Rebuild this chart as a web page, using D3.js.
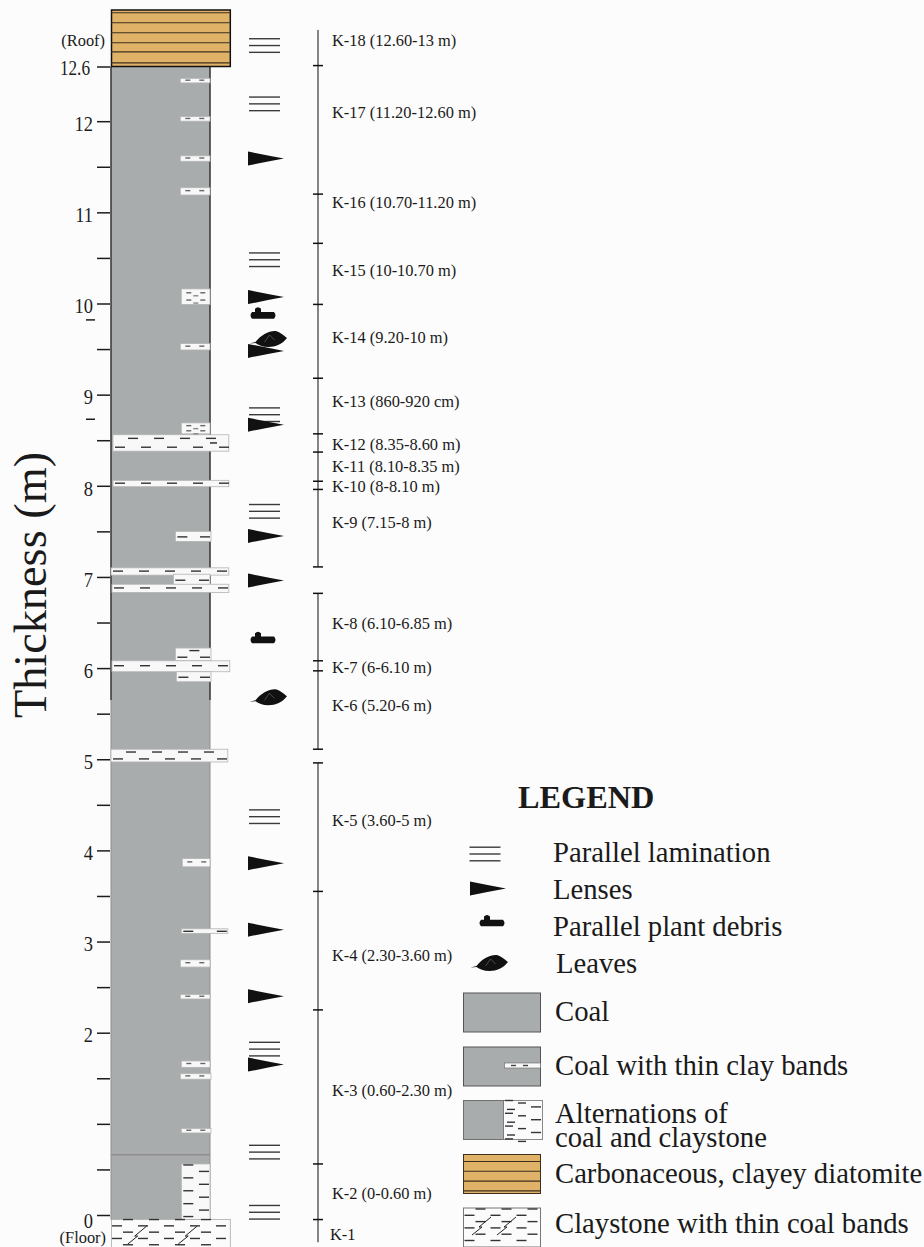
<!DOCTYPE html>
<html>
<head>
<meta charset="utf-8">
<script src="https://cdn.jsdelivr.net/npm/d3@7"></script>
<style>
  html, body { margin: 0; padding: 0; background: #fcfcfc; }
  svg { display: block; font-family: "Liberation Serif", serif; fill: #1a1a1a; }
</style>
</head>
<body>
<script>
// thickness ticks (m)
const tickValues = [0, 0.5, 1, 1.5, 2, 2.5, 3, 3.5, 4, 4.5, 5, 5.5, 6, 6.5, 7, 7.5, 8, 8.5, 9, 9.5, 10, 10.5, 11, 11.5, 12, 12.6];
const unlabelledTicks = [0.5, 1, 1.5, 2.5, 3.5, 4.5, 5.5, 6.5, 7.5, 8.5, 9.5, 10.5, 11.5];
const strayTicks = [8.73, 9.82];

// clay bands: top, base (m), left and right edge (share of the coal column), dash rows
const bandTop = [12.47, 12.05, 11.62, 11.27, 10.16, 9.56, 8.69, 8.56, 8.06, 7.50, 7.10, 7.03, 6.92, 6.22, 6.08, 5.96, 5.11, 3.91, 3.14, 2.80, 2.42, 1.69, 1.55, 0.95, 0.56];
const bandBase = [12.42, 12.00, 11.56, 11.19, 9.99, 9.49, 8.57, 8.38, 7.99, 7.39, 7.02, 6.91, 6.83, 6.08, 5.96, 5.85, 4.97, 3.82, 3.09, 2.72, 2.37, 1.62, 1.49, 0.90, -0.05];
const bandFrom = [0.70, 0.70, 0.70, 0.70, 0.71, 0.70, 0.71, 0.02, 0.02, 0.65, 0.00, 0.63, 0.01, 0.65, 0.01, 0.66, 0.00, 0.72, 0.71, 0.70, 0.70, 0.71, 0.70, 0.71, 0.71];
const bandTo = [1.00, 1.00, 1.00, 1.00, 1.00, 1.00, 1.00, 1.19, 1.19, 1.01, 1.19, 1.00, 1.19, 1.01, 1.20, 1.01, 1.18, 1.00, 1.18, 1.00, 1.00, 1.00, 1.01, 1.01, 1.00];
const bandRows = [1, 1, 1, 1, 2, 1, 2, 2, 1, 1, 1, 1, 1, 2, 1, 1, 2, 1, 1, 1, 1, 1, 1, 1, 9];

const coalBase = -0.05;
const coalTop = 12.6;
const roofTop = 13.22;
const floorBase = -0.36;
const darkEdgeBase = 5.65;
const thinLine = 0.66;
const roofLines = [13.19, 13.08, 12.97, 12.86, 12.76, 12.64];

// sedimentary symbols, depth in m
const laminationAt = [12.83, 12.19, 10.48, 8.78, 7.72, 4.37, 1.82, 0.69, 0.03];
const lensAt = [11.59, 10.07, 9.48, 8.67, 7.45, 6.96, 3.86, 3.13, 2.40, 1.65];
const debrisAt = [9.87, 6.31];
const leafAt = [9.61, 5.68];

// K-units: label, where the label sits, unit boundaries, breaks in the bar
const unitLabels = ["K-18 (12.60-13 m)", "K-17 (11.20-12.60 m)", "K-16 (10.70-11.20 m)", "K-15 (10-10.70 m)", "K-14 (9.20-10 m)", "K-13 (860-920 cm)", "K-12 (8.35-8.60 m)", "K-11 (8.10-8.35 m)", "K-10 (8-8.10 m)", "K-9 (7.15-8 m)", "K-8 (6.10-6.85 m)", "K-7 (6-6.10 m)", "K-6 (5.20-6 m)", "K-5 (3.60-5 m)", "K-4 (2.30-3.60 m)", "K-3 (0.60-2.30 m)", "K-2 (0-0.60 m)", "K-1"];
const unitLabelAt = [12.88, 12.09, 11.11, 10.36, 9.62, 8.92, 8.45, 8.21, 7.99, 7.59, 6.49, 6.0, 5.59, 4.32, 2.84, 1.36, 0.23, -0.22];
const unitBounds = [12.61, 11.20, 10.66, 9.99, 9.18, 8.57, 8.37, 8.05, 7.96, 7.11, 6.82, 6.08, 5.97, 5.11, 4.96, 3.55, 2.25, 0.56, -0.05];
const barSegments = [[13.0, 7.11], [6.82, 5.11], [4.96, -0.30]];

const legendSymbols = ["Parallel lamination", "Lenses", "Parallel plant debris", "Leaves"];
const legendSwatches = ["Coal", "Coal with thin clay bands", "Carbonaceous, clayey diatomite", "Claystone with thin coal bands"];
const legendTwoLine = ["Alternations of", "coal and claystone"];

const coalColor = "#a9acac";
const roofColor = "#dfb268";
const ink = "#1c1c1c";

const width = 924, height = 1247;

const svg = d3.select("body").append("svg")
  .attr("width", width)
  .attr("height", height);

const y = d3.scaleLinear().domain([0, 12.6]).range([1215, 66.5]);
const x = d3.scaleLinear().domain([0, 1]).range([111, 210]);

const leafPath = "M-19,4.5 L-13,3 C-8,-4 1,-8.5 7,-8 C12,-7 16,-3 18.5,-1 C14,5 7,8 0,8 C-6,8 -10,6 -13,4 Z";
const debrisPath = "M-11,-3.3 L-8,-3.3 L-8,-6.5 Q-5,-9.5 -2,-6.5 L-2,-3.3 L11,-3.3 Q14,0 11,3.3 L-11,3.3 Q-14,0 -11,-3.3 Z";
const lensPath = "M0,-7 Q18,-3.3 36,0 Q18,3.3 0,7 Z";

function drawLamination(g, cx, cy) {
  [-6.8, 0, 6.8].forEach(d => {
    g.append("line")
      .attr("x1", cx - 15.5).attr("x2", cx + 15.5)
      .attr("y1", cy + d).attr("y2", cy + d)
      .attr("stroke", "#3a3a3a").attr("stroke-width", 1.4);
  });
}

function drawLens(g, lx, cy) {
  g.append("path").attr("d", lensPath)
    .attr("transform", `translate(${lx},${cy})`)
    .attr("fill", "#111");
}

function drawDebris(g, cx, cy) {
  g.append("path").attr("d", debrisPath)
    .attr("transform", `translate(${cx},${cy})`)
    .attr("fill", "#111");
}

function drawLeaf(g, cx, cy) {
  g.append("path").attr("d", leafPath)
    .attr("transform", `translate(${cx},${cy})`)
    .attr("fill", "#111");
  g.append("path").attr("d", `M${cx - 4},${cy + 3} L${cx + 1},${cy - 4} M${cx + 1},${cy - 4} L${cx + 6},${cy + 1}`)
    .attr("stroke", "#888").attr("stroke-width", 0.5).attr("fill", "none");
}

function dash(g, x1, yy, len, color) {
  g.append("line")
    .attr("x1", x1).attr("x2", x1 + len)
    .attr("y1", yy).attr("y2", yy)
    .attr("stroke", color).attr("stroke-width", 1.4);
}

// floor pattern, also used for the legend swatch
function drawFloorDashes(g, left, right, top, rowsGap, rows) {
  for (let r = 0; r < rows; r += 1) {
    for (let dx = left + (r % 2 ? 1 : 12); dx < right - 6; dx += 26) {
      dash(g, dx, top + r * rowsGap, 10, "#333");
    }
  }
}

function drawBolt(g, bx, by) {
  g.append("path")
    .attr("d", `M${bx - 10},${by + 9} L${bx},${by + 1} L${bx - 3},${by + 1} L${bx + 9},${by - 9}`)
    .attr("stroke", "#222").attr("stroke-width", 1).attr("fill", "none");
}

// ---- coal column
const column = svg.append("g").attr("id", "column");

column.append("rect")
  .attr("x", x(0)).attr("y", y(coalTop))
  .attr("width", x(1) - x(0)).attr("height", y(coalBase) - y(coalTop))
  .attr("fill", coalColor);

column.append("line")
  .attr("x1", x(0)).attr("x2", x(1))
  .attr("y1", y(thinLine)).attr("y2", y(thinLine))
  .attr("stroke", "#7d7474").attr("stroke-width", 0.8);

[0, 1].forEach(side => {
  column.append("line")
    .attr("x1", x(side)).attr("x2", x(side))
    .attr("y1", y(coalTop)).attr("y2", y(darkEdgeBase))
    .attr("stroke", "#333").attr("stroke-width", 1.5);
  column.append("line")
    .attr("x1", x(side)).attr("x2", x(side))
    .attr("y1", y(darkEdgeBase)).attr("y2", y(coalBase))
    .attr("stroke", "#8c8f8f").attr("stroke-width", 1);
});

// ---- clay bands
const bands = bandTop.map((top, i) => ({ top, base: bandBase[i], from: bandFrom[i], to: bandTo[i], rows: bandRows[i] }));

column.selectAll("rect.band")
  .data(bands)
  .enter()
  .append("rect")
  .attr("class", "band")
  .attr("x", d => x(d.from))
  .attr("y", d => y(d.top))
  .attr("width", d => x(d.to) - x(d.from))
  .attr("height", d => y(d.base) - y(d.top))
  .attr("fill", "#f8f8f8")
  .attr("stroke", "#b4b4b4")
  .attr("stroke-width", 0.8);

bands.forEach(d => {
  const left = x(d.from), right = x(d.to);
  const top = y(d.top), h = y(d.base) - y(d.top);
  const w = right - left;
  if (d.rows > 3) {
    // alternating rows of the coal and claystone band
    for (let r = 0; r < d.rows; r += 1) {
      dash(column, r % 2 ? right - 11 : left + 2, top + 1 + r * (h - 4) / (d.rows - 1), 10, "#333");
    }
  } else if (w > 60) {
    for (let r = 0; r < d.rows; r += 1) {
      const rowY = d.rows === 1 ? top + h * 0.45 : top + h * (r === 0 ? 0.22 : 0.76);
      const offset = d.rows === 2 && r === 0 ? 15 : 2;
      for (let dx = left + offset; dx < right - 9; dx += 26) dash(column, dx, rowY, 10, "#333");
    }
  } else if (w > 32) {
    const rowY = top + h * (d.rows === 2 ? 0.72 : 0.55);
    dash(column, left + 2, rowY, 10, "#333");
    dash(column, right - 11, rowY, 10, "#333");
    if (d.rows === 2) dash(column, left + 14, top + h * 0.2, 10, "#333");
  } else {
    for (let r = 0; r < d.rows; r += 1) {
      const rowY = d.rows === 1 ? top + h * 0.4 : top + h * (r === 0 ? 0.25 : 0.72);
      dash(column, left + 5, rowY, 5, "#666");
      dash(column, left + 19, rowY, 5, "#666");
      if (d.rows === 2) dash(column, left + 12, rowY + 3, 5, "#888");
    }
  }
});
dash(column, x(1) + 0, y(8.47), 7, "#222");

// ---- roof and floor
const roof = svg.append("g").attr("id", "roof");
roof.append("rect")
  .attr("x", x(0) + 0.5).attr("y", y(roofTop))
  .attr("width", x(1.2) - x(0)).attr("height", y(coalTop) - y(roofTop))
  .attr("fill", roofColor)
  .attr("stroke", "#111").attr("stroke-width", 1.5);
roof.selectAll("line")
  .data(roofLines)
  .enter()
  .append("line")
  .attr("x1", x(0)).attr("x2", x(1.2))
  .attr("y1", d => y(d)).attr("y2", d => y(d))
  .attr("stroke", "#3d3020").attr("stroke-width", 1.1);

const floor = svg.append("g").attr("id", "floor");
floor.append("rect")
  .attr("x", x(0) + 0.5).attr("y", y(coalBase))
  .attr("width", x(1.2) - x(0)).attr("height", y(floorBase) - y(coalBase))
  .attr("fill", "#fbfbfb")
  .attr("stroke", "#aaa").attr("stroke-width", 0.8);
drawFloorDashes(floor, x(0), x(1.2), y(coalBase), 6.3, 5);
drawBolt(floor, x(0.27), y(-0.22));
drawBolt(floor, x(0.78), y(-0.22));

// ---- thickness axis
const yAxis = d3.axisLeft(y)
  .tickValues(tickValues)
  .tickSize(13)
  .tickPadding(4)
  .tickFormat(d => unlabelledTicks.includes(d) ? "" : d);

const axis = svg.append("g")
  .attr("id", "yAxis")
  .attr("transform", "translate(110,0)")
  .call(yAxis);
axis.select(".domain").remove();
axis.selectAll("line").attr("stroke", ink).attr("stroke-width", 1.5);
//digits in the picture are tall and narrow, squeeze them a bit
axis.selectAll("text")
  .attr("font-family", "Liberation Serif")
  .attr("font-size", 22)
  .attr("fill", ink)
  .attr("dy", "0.42em")
  .each(function (d) {
    if (this.textContent === "") return;
    if (d === 0) d3.select(this).attr("dy", "0.56em");
    if (d === 12.6) d3.select(this).attr("font-size", 20).attr("dx", -3);
    this.setAttribute("textLength", this.getComputedTextLength() * (d === 12.6 ? 0.86 : 0.84));
    this.setAttribute("lengthAdjust", "spacingAndGlyphs");
  });

svg.selectAll("line.stray")
  .data(strayTicks)
  .enter()
  .append("line")
  .attr("class", "stray")
  .attr("x1", 86).attr("x2", 95)
  .attr("y1", d => y(d)).attr("y2", d => y(d))
  .attr("stroke", ink).attr("stroke-width", 1.5);

svg.append("text")
  .attr("transform", "translate(46,585) rotate(-90)")
  .attr("text-anchor", "middle")
  .attr("font-size", 46.3)
  .text("Thickness (m)");

svg.append("text").attr("x", 105).attr("y", 46).attr("text-anchor", "end").attr("font-size", 16.4).text("(Roof)");
svg.append("text").attr("x", 106).attr("y", 1243).attr("text-anchor", "end").attr("font-size", 16.4).text("(Floor)");

// ---- symbols next to the column
const symbols = svg.append("g").attr("id", "symbols");
laminationAt.forEach(d => drawLamination(symbols, 264.5, y(d)));
lensAt.forEach(d => drawLens(symbols, 248, y(d)));
debrisAt.forEach(d => drawDebris(symbols, 263, y(d)));
leafAt.forEach(d => drawLeaf(symbols, 268.5, y(d)));

// ---- K-unit bar
const bar = svg.append("g").attr("id", "unitBar");
bar.selectAll("line.segment")
  .data(barSegments)
  .enter()
  .append("line")
  .attr("class", "segment")
  .attr("x1", 318).attr("x2", 318)
  .attr("y1", d => y(d[0])).attr("y2", d => y(d[1]))
  .attr("stroke", "#444").attr("stroke-width", 1.3);
bar.selectAll("line.bound")
  .data(unitBounds)
  .enter()
  .append("line")
  .attr("class", "bound")
  .attr("x1", 313).attr("x2", 323)
  .attr("y1", d => y(d)).attr("y2", d => y(d))
  .attr("stroke", "#111").attr("stroke-width", 1.5);
bar.selectAll("text")
  .data(unitLabels)
  .enter()
  .append("text")
  .attr("x", (d, i) => i === unitLabels.length - 1 ? 330 : 332)
  .attr("y", (d, i) => y(unitLabelAt[i]))
  .attr("dy", "0.32em")
  .attr("font-size", 16.4)
  .text(d => d);

// ---- legend
const legend = svg.append("g").attr("id", "legend");
legend.append("text")
  .attr("x", 518).attr("y", 808)
  .attr("font-size", 32.3).attr("font-weight", "bold")
  .text("LEGEND");

drawLamination(legend, 485, 854);
drawLens(legend, 470, 888.5);
drawDebris(legend, 492, 923);
drawLeaf(legend, 489.5, 963);

const symbolRowY = [853, 890, 927, 964];
const symbolRowX = [553, 553, 553, 556];
legend.selectAll("text.symbolRow")
  .data(legendSymbols)
  .enter()
  .append("text")
  .attr("class", "symbolRow")
  .attr("x", (d, i) => symbolRowX[i])
  .attr("y", (d, i) => symbolRowY[i])
  .attr("dy", "0.32em")
  .attr("font-size", 28.7)
  .text(d => d);

function swatch(sy, w, fill, stroke) {
  return legend.append("rect")
    .attr("x", 463.5).attr("y", sy)
    .attr("width", w).attr("height", 39)
    .attr("fill", fill)
    .attr("stroke", stroke).attr("stroke-width", 1);
}

swatch(993, 77, coalColor, "#555");

swatch(1047, 77, coalColor, "#555");
legend.append("rect").attr("x", 504.5).attr("y", 1063)
  .attr("width", 36).attr("height", 5)
  .attr("fill", "#f8f8f8").attr("stroke", "#666").attr("stroke-width", 0.6);
dash(legend, 511, 1065.5, 5, "#444");
dash(legend, 523, 1065.5, 5, "#444");

swatch(1100.5, 79, "#fbfbfb", "#888");
legend.append("rect").attr("x", 463.5).attr("y", 1100.5)
  .attr("width", 40).attr("height", 39)
  .attr("fill", coalColor).attr("stroke", "#666").attr("stroke-width", 0.8);
for (let r = 0; r < 7; r += 1) {
  dash(legend, r % 2 ? 531 : 505, 1100.5 + r * 6.4, r % 2 ? 10 : 8, "#333");
  dash(legend, r % 2 ? 507 : 518, 1103 + r * 6.4, 8, "#333");
}

swatch(1154.5, 77, roofColor, "#3d3020");
d3.range(4).forEach(i => {
  legend.append("line")
    .attr("x1", 463.5).attr("x2", 540.5)
    .attr("y1", 1161.5 + i * 9.8).attr("y2", 1161.5 + i * 9.8)
    .attr("stroke", "#3d3020").attr("stroke-width", 1.1);
});

legend.append("rect").attr("x", 463.5).attr("y", 1208)
  .attr("width", 77).attr("height", 39)
  .attr("fill", "#fbfbfb").attr("stroke", "#777").attr("stroke-width", 1);
drawFloorDashes(legend, 463.5, 540.5, 1209, 6.3, 6);
drawBolt(legend, 482, 1226);
drawBolt(legend, 507, 1226);

const swatchRowY = [1012, 1066, 1174, 1224];
legend.selectAll("text.swatchRow")
  .data(legendSwatches)
  .enter()
  .append("text")
  .attr("class", "swatchRow")
  .attr("x", 555)
  .attr("y", (d, i) => swatchRowY[i])
  .attr("dy", "0.32em")
  .attr("font-size", 28.7)
  .text(d => d);
legend.selectAll("text.twoLine")
  .data(legendTwoLine)
  .enter()
  .append("text")
  .attr("class", "twoLine")
  .attr("x", 555)
  .attr("y", (d, i) => 1114 + i * 24)
  .attr("dy", "0.32em")
  .attr("font-size", 28.7)
  .text(d => d);
</script>
</body>
</html>
